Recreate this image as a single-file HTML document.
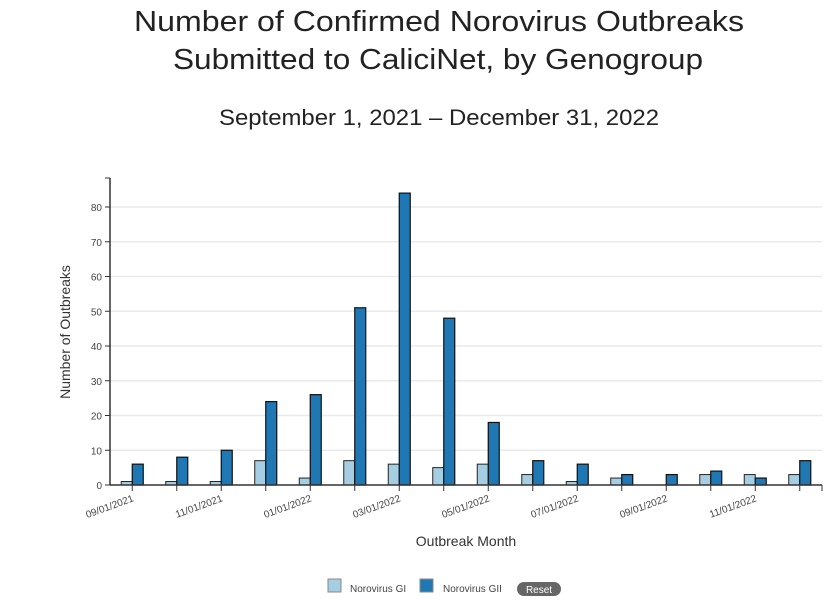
<!DOCTYPE html>
<html><head><meta charset="utf-8"><style>
body{margin:0;width:831px;height:598px;background:#fff;font-family:"Liberation Sans",sans-serif;overflow:hidden}
</style></head><body>
<svg width="831" height="598" font-family="Liberation Sans, sans-serif">
<text x="439" y="31" text-anchor="middle" font-size="29" fill="#222" textLength="610" lengthAdjust="spacingAndGlyphs">Number of Confirmed Norovirus Outbreaks</text>
<text x="438" y="69" text-anchor="middle" font-size="29" fill="#222" textLength="530" lengthAdjust="spacingAndGlyphs">Submitted to CaliciNet, by Genogroup</text>
<text x="439" y="125" text-anchor="middle" font-size="22" fill="#222" textLength="440" lengthAdjust="spacingAndGlyphs">September 1, 2021 – December 31, 2022</text>
<g id="grid"></g><g id="bars"></g><g id="axes"></g>
<text transform="translate(70,332) rotate(-90)" text-anchor="middle" font-size="14" fill="#333">Number of Outbreaks</text>
<text x="466" y="546" text-anchor="middle" font-size="14" fill="#333">Outbreak Month</text>
<g>
<rect x="328" y="579" width="13" height="13" fill="#a6cee3" stroke="#888"/>
<text x="350" y="592" font-size="10" fill="#444">Norovirus GI</text>
<rect x="420" y="579" width="13" height="13" fill="#1f78b4" stroke="#888"/>
<text x="443" y="592" font-size="10" fill="#444">Norovirus GII</text>
<rect x="517" y="582" width="44" height="14" rx="7" fill="#666"/>
<text x="539" y="593" text-anchor="middle" font-size="10" fill="#fff">Reset</text>
</g>
</svg>
<script>
const months=["09/01/2021","10/01/2021","11/01/2021","12/01/2021","01/01/2022","02/01/2022","03/01/2022","04/01/2022","05/01/2022","06/01/2022","07/01/2022","08/01/2022","09/01/2022","10/01/2022","11/01/2022","12/01/2022"];
const gi=[1,1,1,7,2,7,6,5,6,3,1,2,0,3,3,3];
const gii=[6,8,10,24,26,51,84,48,18,7,6,3,3,4,2,7];
const yTicks=[0,10,20,30,40,50,60,70,80];
const NS="http://www.w3.org/2000/svg";
const x0=110,x1=822,y0=485,yTop=178;
const band=(x1-x0)/months.length;
const xc=i=>x0+band*(i+0.5);
const y=v=>y0-v*3.475;
function mk(t,a,p){const e=document.createElementNS(NS,t);for(const k in a)e.setAttribute(k,a[k]);(p||document.querySelector('svg')).appendChild(e);return e;}
const G=document.getElementById('grid'),B=document.getElementById('bars'),A=document.getElementById('axes');
yTicks.forEach(v=>{
 if(v>0){const l=mk('line',{x1:x0,x2:x1,y1:y(v),y2:y(v),stroke:'#eaeaea','stroke-width':1.5},G);
 
 }
 const tk=mk('line',{x1:x0-5,x2:x0,y1:y(v),y2:y(v),stroke:'#333'},A);
 
 
 const t=mk('text',{x:x0-8,y:y(v)+4,'text-anchor':'end','font-size':10,fill:'#444'},A);t.textContent=v;
 
 
});
const bw=11;
months.forEach((m,i)=>{
 const c=xc(i);
 const r1=mk('rect',{x:c-bw,y:y(gi[i]),width:bw,height:y0-y(gi[i]),fill:'#a6cee3',stroke:'#222','stroke-width':1},B);
 
 
 const r2=mk('rect',{x:c,y:y(gii[i]),width:bw,height:y0-y(gii[i]),fill:'#1f78b4',stroke:'#111','stroke-width':1.2},B);
 
 
 const tk=mk('line',{x1:c,x2:c,y1:y0,y2:y0+6,stroke:'#333'},A);
 
 
 if(i%2==0){const t=mk('text',{transform:`translate(${c+2},${y0+16}) rotate(-20)`,'text-anchor':'end','font-size':10,fill:'#444'},A);t.textContent=m;
 
 }
});
const ya=mk('line',{x1:x0,x2:x0,y1:yTop,y2:y0,stroke:'#333','stroke-width':1.5},A);


mk('line',{x1:x0-5,x2:x0,y1:yTop,y2:yTop,stroke:'#333'},A);
const xa=mk('line',{x1:x0,x2:x1,y1:y0,y2:y0,stroke:'#333','stroke-width':1.5},A);


mk('line',{x1:x1,x2:x1,y1:y0,y2:y0+6,stroke:'#333'},A);
</script>
</body></html>
